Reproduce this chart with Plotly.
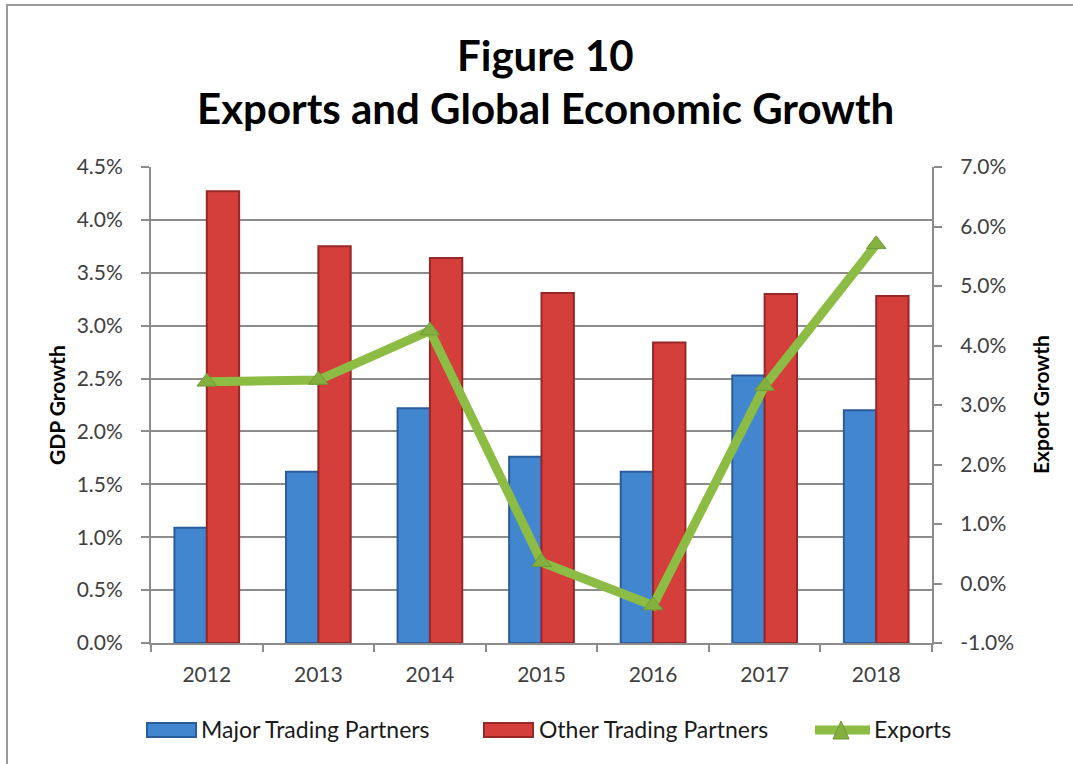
import plotly.graph_objects as go

# Chart data (percent)
years = ["2012", "2013", "2014", "2015", "2016", "2017", "2018"]
major_partners = [1.09, 1.62, 2.22, 1.76, 1.62, 2.53, 2.20]
other_partners = [4.27, 3.75, 3.64, 3.31, 2.84, 3.30, 3.28]
exports = [3.39, 3.42, 4.25, 0.36, -0.37, 3.32, 5.70]

left_ticks = [i * 0.5 for i in range(10)]
left_labels = [f"{v:.1f}%" for v in left_ticks]
right_ticks = list(range(-1, 8))
right_labels = [f"{v:.1f}%" for v in right_ticks]

W, H = 1073, 764
L, R, T, B = 151, 932, 167, 643
FONT = "Lato"
TICK_COLOR = "#404040"
GRID = "#8C8C8C"

BLUE, BLUE_EDGE = "#4386D0", "#2A5C9A"
RED, RED_EDGE = "#D43E3B", "#972828"
GREEN, GREEN_DARK = "#8DBC45", "#6E9A33"


def fx(x):
    return (x - L) / (R - L)


def fy(y):
    return (B - y) / (B - T)


fig = go.Figure()
fig.add_trace(go.Bar(
    x=years, y=major_partners, name="Major Trading Partners",
    marker=dict(color=BLUE, line=dict(color=BLUE_EDGE, width=2)),
))
fig.add_trace(go.Bar(
    x=years, y=other_partners, name="Other Trading Partners",
    marker=dict(color=RED, line=dict(color=RED_EDGE, width=2)),
))
fig.add_trace(go.Scatter(
    x=years, y=exports, name="Exports", yaxis="y2",
    mode="lines+markers",
    line=dict(color=GREEN, width=9),
    marker=dict(symbol="triangle-up", size=17, color="#84B040",
                line=dict(color=GREEN_DARK, width=1)),
))

shapes = [
    # outer frame
    dict(type="rect", xref="paper", yref="paper",
         x0=fx(7), x1=fx(W + 20), y0=fy(H + 20), y1=fy(5),
         line=dict(color="#9A9A9A", width=2), layer="below"),
    # legend swatches
    dict(type="rect", xref="paper", yref="paper",
         x0=fx(147), x1=fx(196), y0=fy(737), y1=fy(723),
         fillcolor=BLUE, line=dict(color=BLUE_EDGE, width=2)),
    dict(type="rect", xref="paper", yref="paper",
         x0=fx(484), x1=fx(533), y0=fy(737), y1=fy(723),
         fillcolor=RED, line=dict(color=RED_EDGE, width=2)),
    dict(type="line", xref="paper", yref="paper",
         x0=fx(815), x1=fx(870), y0=fy(730), y1=fy(730),
         line=dict(color=GREEN, width=9)),
    dict(type="path", xref="paper", yref="paper",
         path=f"M {fx(833)} {fy(739)} L {fx(849)} {fy(739)} L {fx(841)} {fy(721)} Z",
         fillcolor="#84B040", line=dict(color=GREEN_DARK, width=1)),
]


def note(text, x, y, size, color="#000000", angle=0, anchor="center"):
    return dict(text=text, x=fx(x), y=fy(y), xref="paper", yref="paper",
                showarrow=False, textangle=angle,
                font=dict(family=FONT, size=size, color=color),
                xanchor=anchor, yanchor="middle")


annotations = [
    note("<b>Figure 10</b>", 545, 55, 42),
    note("<b>Exports and Global Economic Growth</b>", 545, 108, 42),
    note("<b>GDP Growth</b>", 56, 405, 21, angle=-90),
    note("<b>Export Growth</b>", 1040, 405, 21, angle=-90),
    note("Major Trading Partners", 199, 729, 23, "#1A1A1A", anchor="left"),
    note("Other Trading Partners", 537, 729, 23, "#1A1A1A", anchor="left"),
    note("Exports", 872, 729, 23, "#1A1A1A", anchor="left"),
]

axis_line = dict(showline=True, linecolor=GRID, linewidth=2,
                 ticks="outside", tickcolor=GRID, tickwidth=2)

fig.update_layout(
    width=W, height=H,
    margin=dict(l=L, r=W - R, t=T, b=H - B, pad=0),
    paper_bgcolor="white", plot_bgcolor="white",
    barmode="group", bargap=0.42, bargroupgap=0,
    font=dict(family=FONT, size=21, color=TICK_COLOR),
    xaxis=dict(
        type="category", tickson="boundaries", ticklen=7,
        ticklabelstandoff=12, showgrid=False,
        tickfont=dict(family=FONT, size=21, color=TICK_COLOR),
        **axis_line,
    ),
    yaxis=dict(
        range=[0, 4.5], tickvals=left_ticks, ticktext=left_labels, ticklen=8,
        ticklabelstandoff=14,
        showgrid=True, gridcolor=GRID, gridwidth=2, zeroline=False,
        tickfont=dict(family=FONT, size=21, color=TICK_COLOR),
        **axis_line,
    ),
    yaxis2=dict(
        range=[-1, 7], tickvals=right_ticks, ticktext=right_labels, ticklen=8,
        ticklabelstandoff=14,
        overlaying="y", side="right", showgrid=False, zeroline=False,
        tickfont=dict(family=FONT, size=21, color=TICK_COLOR),
        **axis_line,
    ),
    shapes=shapes,
    annotations=annotations,
    showlegend=False,
)

fig.write_html("out.html")
